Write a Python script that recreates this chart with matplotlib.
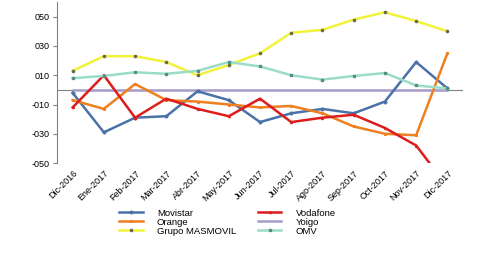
import numpy as np
import matplotlib
matplotlib.use('Agg')
import matplotlib.pyplot as plt

plt.rcParams['font.family'] = ['Liberation Sans', 'DejaVu Sans']

# Data
months = ['Dic-2016', 'Ene-2017', 'Feb-2017', 'Mar-2017', 'Abr-2017', 'May-2017', 'Jun-2017',
          'Jul-2017', 'Ago-2017', 'Sep-2017', 'Oct-2017', 'Nov-2017', 'Dic-2017']
movistar = [-2, -29, -19, -18, -1, -7, -22, -16, -13, -16, -8, 19, 1]
orange = [-7, -13, 4, -7, -8, -10, -12, -11, -16, -25, -30, -31, 25]
masmovil = [13, 23, 23, 19, 10, 17, 25, 39, 41, 48, 53, 47, 40]
vodafone = [-12, 10, -19, -6, -13, -18, -6, -22, -19, -17, -26, -38, -66]
yoigo = [0] * 13
omv = [8, 9.5, 12, 11, 13, 19, 16, 10, 7, 9.5, 11.5, 3, 1]

x = np.arange(len(months))

fig = plt.figure(figsize=(5, 2.54), dpi=100)
ax = fig.add_axes([0.114, 0.358, 0.812, 0.634])

# Axis line at zero
ax.axhline(0, color='#808080', lw=0.8, zorder=1)

ax.plot(x, movistar, color='#4a72a6', lw=1.8, marker='D', ms=1.6, label='Movistar', zorder=3)
ax.plot(x, orange, color='#f07f1f', lw=1.8, marker='s', ms=1.2, label='Orange', zorder=3)
ax.plot(x, masmovil, color='#f2f23a', lw=1.8, marker='o', ms=1.6, mfc='#6b6b4a', mec='#6b6b4a',
        label='Grupo MASMOVIL', zorder=3)
ax.plot(x, vodafone, color='#dd1c1c', lw=1.8, marker='^', ms=1.4, label='Vodafone', zorder=3)
ax.plot(x, yoigo, color='#a89cc8', lw=1.8, label='Yoigo', zorder=2)
ax.plot(x, omv, color='#9bdcc8', lw=1.8, marker='s', ms=2.0, mfc='#4f8f86', mec='#4f8f86',
        label='OMV', zorder=3)

ax.set_xlim(-0.5, 12.5)
ax.set_ylim(-50, 60)
ax.set_yticks([-50, -30, -10, 10, 30, 50])
ax.set_yticklabels(['-050', '-030', '-010', '010', '030', '050'], fontsize=6.5)
ax.set_xticks(x)
ax.set_xticklabels(months, rotation=45, ha='right', rotation_mode='anchor', fontsize=6.5)
ax.tick_params(axis='x', length=0, pad=4)
ax.tick_params(axis='y', length=3, color='#808080', width=0.8, pad=2)

for s in ['top', 'right', 'bottom']:
    ax.spines[s].set_visible(False)
ax.spines['left'].set_color('#808080')
ax.spines['left'].set_linewidth(0.8)

handles, labels = ax.get_legend_handles_labels()
fig.legend(handles, labels, ncol=2,
           loc='upper left', bbox_to_anchor=(0.238, 0.178), frameon=False, fontsize=6.8,
           labelspacing=0.0, handlelength=2.5, columnspacing=2.3, handletextpad=1.5,
           borderpad=0, borderaxespad=0)

fig.savefig('out.png', dpi=100)
